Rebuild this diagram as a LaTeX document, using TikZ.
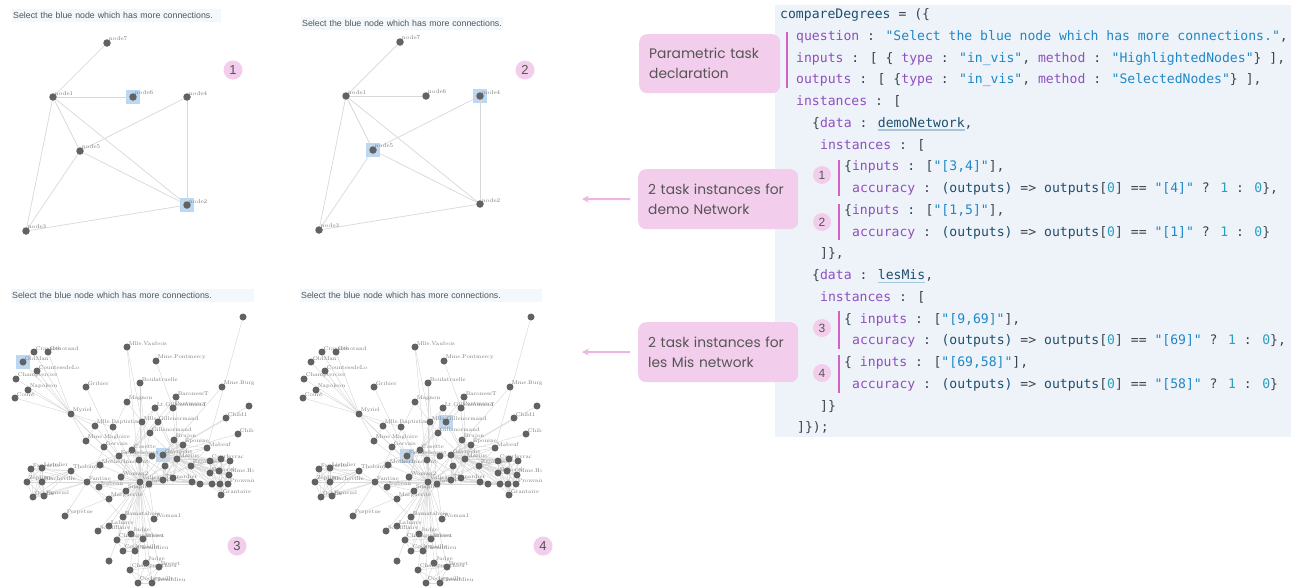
\documentclass[tikz,border=0pt]{standalone}
\usepackage{fontspec}
\usetikzlibrary{arrows.meta}
\newfontfamily\uifont{Liberation Sans}
\newfontfamily\callfont{Poppins}
\newfontfamily\codefont{DejaVu Sans Mono}

\definecolor{codebg}{HTML}{EEF3F9}
\definecolor{ckey}{HTML}{8E4FBF}
\definecolor{cstr}{HTML}{1E88C7}
\definecolor{cnum}{HTML}{2AA0C0}
\definecolor{cvar}{HTML}{1D4E6E}
\definecolor{cplain}{HTML}{3A444E}
\definecolor{pinkfill}{HTML}{F2CDEC}
\definecolor{pinkbar}{HTML}{D262C6}
\definecolor{pinkarrow}{HTML}{EBB6E1}
\definecolor{hlblue}{HTML}{BBD7F3}
\definecolor{headbg}{HTML}{F3F8FC}
\definecolor{nodegray}{HTML}{626262}
\definecolor{edgegray}{HTML}{D8D8D8}
\definecolor{lblgray}{HTML}{7A7A7A}
\definecolor{ulblue}{HTML}{A8C6DA}
\definecolor{txtgray}{HTML}{555555}

\pgfdeclarelayer{back}
\pgfsetlayers{back,main}

% code colouring
\newcommand\Ck[1]{\textcolor{ckey}{#1}}
\newcommand\Cs[1]{\textcolor{cstr}{#1}}
\newcommand\Cn[1]{\textcolor{cnum}{#1}}
\newcommand\Cv[1]{\textcolor{cvar}{#1}}
\newcommand\Cu[1]{\setbox0\hbox{\Cv{#1}}\rlap{\textcolor{ulblue}{\rule[-3.5pt]{\wd0}{1.3pt}}}\box0}
\newcommand\Acc[2]{\Ck{accuracy} : \Cv{(outputs)} => \Cv{outputs}[\Cn{0}] == \Cs{"[#1]"} ? \Cn{1} : \Cn{0}\}#2}

\tikzset{
  dnode/.style={circle, fill=nodegray, inner sep=0pt, minimum size=7.5pt},
  dlbl/.style={font=\fontsize{5.8}{6}\selectfont, text=lblgray, inner sep=0pt, label distance=-1.5pt},
  dedge/.style={draw=edgegray, line width=0.7pt},
  lmnode/.style={circle, fill=nodegray, inner sep=0pt, minimum size=7pt},
  lmlbl/.style={font=\fontsize{5.5}{6}\selectfont, text=lblgray, inner sep=0pt, label distance=-1.5pt},
  lmedge/.style={draw=edgegray, line width=0.45pt},
  hlsq/.style={fill=hlblue, minimum size=14pt, inner sep=0pt},
  head/.style={anchor=north west, fill=headbg, inner xsep=1pt, inner ysep=0pt,
    minimum height=13pt, align=left, font=\uifont\fontsize{8.8}{10}\selectfont, text=txtgray},
  badge/.style={circle, fill=pinkfill, inner sep=0pt, minimum size=19pt,
    font=\uifont\fontsize{13}{13}\selectfont, text=txtgray},
  cbadge/.style={badge, minimum size=18pt, font=\uifont\fontsize{12}{12}\selectfont},
  callout/.style={anchor=north west, fill=pinkfill, rounded corners=8pt, align=left,
    font=\callfont\fontsize{13.8}{20}\selectfont, text=txtgray, inner xsep=10pt, inner ysep=0pt},
  codeline/.style={anchor=west, inner sep=0pt, font=\codefont\fontsize{13.1}{15}\selectfont,
    text=cplain, text height=10pt, text depth=3pt},
  codebar/.style={draw=pinkbar, line width=2pt},
  pointer/.style={draw=pinkarrow, line width=2pt, -{Stealth[length=7pt,width=7pt]}, shorten <=8pt},
}

% small demo network: #1 prefix, #2 and #3 highlighted nodes
\newcommand\demonet[3]{%
  \foreach \n/\x/\y in {7/107/43, 1/53/97, 6/133/97, 4/187/97, 5/80/151, 2/187/205, 3/26/231}
    \node[dnode, label={[dlbl]north east:node\n}] (#1n\n) at (\x,\y) {};
  \begin{pgfonlayer}{back}
    \node[hlsq] (#1hA) at (#1n#2) {};
    \node[hlsq] (#1hB) at (#1n#3) {};
    \foreach \a/\b in {7/1, 1/6, 1/5, 1/2, 1/3, 4/5, 4/2, 5/2, 5/3, 3/2}
      \draw[dedge] (#1n\a) -- (#1n\b);
  \end{pgfonlayer}}

% Les Miserables co-occurrence network: #1 prefix, #2 and #3 highlighted nodes
\newcommand\lesmis[3]{%
  \foreach \n/\x/\y/\lb in {
    tr/243/317/{}, cra/34/352/Cravatte, geb/48/352/Geborand, old/23/362/OldMan,
    ctl/37/371/CountessdeLo, cht/16/379/Champtercier, nap/28/390/Napoleon, cnt/15/398/Count,
    myr/71/414/Myriel, gri/86/387/Gribier, mva/127/347/Mlle.Vaubois, mpo/156/361/Mme.Pontmercy,
    bou/140/383/Boulatruelle, mbu/222/387/Mme.Burgon, bar/176/397/BaronessT, mag/127/402/Magnon,
    ltg/155/408/Lt.Gillenormand, pon/173/408/Pontmercy, rr/249/406/{}, mba/95/426/Mlle.Baptistine,
    mmh/113/427/{}, mgl/86/441/Mme.Magloire, mgi/142/422/Mlle.Gillenormand, mgj/158/422/{},
    gil/150/433/Gillenormand, ch1/226/418/Child1, ch2/238/434/Child2, ger/104/447/Gervais,
    cos/132/450/Cosette, bru/174/440/Brujon, epo/183/445/Eponine, mab/207/448/Mabeuf,
    fav/31/469/Favourite, lis/42/468/Listolier, zep/27/482/Zephine, bla/42/482/Blacheville,
    dah/33/497/Dahlia, fam/44/496/Fameuil, tho/71/471/Tholomyes, fan/87/482/Fantine,
    isa/99/487/Isabeau, mar/109/499/Marguerite, per/65/516/Perpetue, sim/126/491/Simplice,
    wo2/121/477/Woman2, val/140/482/Valjean, jav/149/484/Javert, gav/163/455/Gavroche,
    mri/177/459/Marius, mr2/165/466/{}, x3/152/456/{}, x1/139/460/{},
    mot/100/465/MotherInnocent, fau/119/456/Fauchelevent, enj/191/466/Enjolras, cou/210/461/Courfeyrac,
    com/221/459/{}, pro/230/461/{}, bah/210/473/Bahorel, joly/219/471/{},
    mhu/229/475/Mme.Hucheloup, gue/192/482/{}, bab/200/484/{}, cla/212/484/{},
    mon/220/484/{}, feu/228/484/Prouvaire, gra/221/495/Grantaire, the/163/480/Thenardier,
    thn/173/478/{}, bam/123/517/Bamatabois, wo1/154/519/Woman1, lab/109/526/Labarre,
    sca/98/531/Scaufflaire, jud/131/534/Judge, bre/143/539/Brevet, chp/117/540/Champmathieu,
    coc/123/551/Cochepaille, che/135/551/Chenildieu, hf/109/561/{}, jd2/146/563/Judge,
    cp2/130/570/Champmathieu, br2/159/567/Brevet, co2/138/583/Cochepaille, ce2/152/583/Chenildieu}
    \node[lmnode, label={[lmlbl]north east:\lb}] (#1\n) at (\x,\y) {};
  \begin{pgfonlayer}{back}
    \node[hlsq] (#1hA) at (#1#2) {};
    \node[hlsq] (#1hB) at (#1#3) {};
    \foreach \a/\b in {
      myr/cra, myr/geb, myr/old, myr/ctl, myr/cht, myr/nap, myr/cnt, myr/mba, myr/mgl, myr/mmh, myr/val, myr/ger,
      gri/fau, mva/mgi, mva/val, mpo/pon, bou/val, bou/jav, mbu/gav, tr/mab, bar/mri, bar/cos, mag/mgi, mag/fan,
      ltg/mgi, ltg/cos, ltg/mri, pon/gil, pon/mri, rr/gav, ch1/gav, ch2/gav,
      mba/mgl, mba/val, mgl/val, mmh/val, mgi/val, mgi/cos, mgi/gil, mgj/gil, mgj/mri, mgj/cos, gil/mri, gil/cos, gil/val,
      ger/val, cos/val, cos/mri, cos/jav, cos/the, cos/thn, cos/fau,
      bru/gav, bru/the, bru/thn, bru/epo, bru/gue, bru/bab, bru/cla, bru/mon,
      epo/mri, epo/the, epo/thn, epo/gav, mab/enj, mab/gav, mab/epo, mab/mri,
      fav/lis, fav/zep, fav/bla, fav/dah, fav/fam, lis/zep, lis/bla, lis/dah, lis/fam, zep/bla, zep/dah, zep/fam,
      bla/dah, bla/fam, dah/fam, fav/tho, lis/tho, zep/tho, bla/tho, dah/tho, fam/tho,
      fav/fan, lis/fan, zep/fan, bla/fan, dah/fan, fam/fan,
      tho/fan, tho/cos, fan/val, fan/mar, fan/the, fan/thn, fan/jav, fan/sim, fan/bam, fan/per, per/sim,
      isa/val, mar/val, sim/val, sim/jav, wo2/val, wo2/cos, wo2/jav,
      val/jav, val/gav, val/mri, val/the, val/thn, val/bam, val/wo1, val/lab, val/sca, val/jud, val/bre, val/chp,
      val/coc, val/che, val/jd2, val/cp2, val/br2, val/co2, val/ce2, val/x1, val/x3, val/mr2, val/enj, val/hf,
      jav/the, jav/thn, jav/enj, jav/gav, jav/bam, jav/wo1, jav/gue, jav/bab, jav/cla, jav/mon,
      jud/bre, jud/chp, jud/coc, jud/che, bre/chp, bre/coc, bre/che, chp/coc, chp/che, coc/che, bam/jud, bam/chp,
      jd2/cp2, jd2/br2, jd2/co2, jd2/ce2, cp2/br2, cp2/co2, cp2/ce2, br2/co2, br2/ce2, co2/ce2,
      mot/val, mot/fau, fau/val, fau/cos, fau/jav, fau/gav,
      gav/mri, gav/enj, gav/cou, gav/com, gav/bah, gav/joly, gav/mhu, gav/pro, gav/the, gav/thn,
      gav/gue, gav/bab, gav/cla, gav/mon,
      mri/enj, mri/cou, mri/com, mri/bah, mri/joly, mri/the, mri/thn, mri/x3,
      enj/cou, enj/com, enj/bah, enj/joly, enj/pro, enj/feu, enj/gra, enj/mhu,
      cou/com, cou/bah, cou/joly, cou/pro, cou/feu, cou/gra, cou/mhu, com/bah, com/joly, com/pro, com/feu, com/gra,
      bah/joly, bah/pro, bah/feu, bah/gra, bah/mhu, joly/pro, joly/feu, joly/gra, joly/mhu, pro/feu, pro/gra, feu/gra,
      the/thn, the/gue, the/bab, the/cla, the/mon, thn/gue, thn/bab, thn/cla, thn/mon,
      gue/bab, gue/cla, gue/mon, bab/cla, bab/mon, cla/mon, x1/cos, x3/cos, mr2/the}
      \draw[lmedge] (#1\a) -- (#1\b);
  \end{pgfonlayer}}

\begin{document}
\begin{tikzpicture}[x=1pt, y=-1pt]
\useasboundingbox (0,0) rectangle (1293,587);
\begin{pgfonlayer}{back}
  \fill[white] (0,0) rectangle (1293,587);
\end{pgfonlayer}

% ---------- task views ----------
\node[head, text width=207pt] (h1) at (12,9) {\mbox{Select the blue node which has more connections.}};
\demonet{a}{6}{2}
\node[badge] (b1) at (233,70) {1};

\node[head, text width=200pt] (h2) at (301,17) {\mbox{Select the blue node which has more connections.}};
\begin{scope}[shift={(293,-1)}]
  \demonet{b}{4}{5}
\end{scope}
\node[badge] (b2) at (525,70) {2};

\node[head, text width=241pt] (h3) at (11,289) {\mbox{Select the blue node which has more connections.}};
\begin{scope}
  \clip (0,305) rectangle (253,587);
  \lesmis{c}{old}{gav}
\end{scope}
\node[badge] (b3) at (237,546) {3};

\node[head, text width=240pt] (h4) at (300,289) {\mbox{Select the blue node which has more connections.}};
\begin{scope}[shift={(288,0)}]
  \clip (0,305) rectangle (253,587);
  \lesmis{d}{mgj}{fau}
\end{scope}
\node[badge] (b4) at (543,546) {4};

% ---------- code listing ----------
\fill[codebg] (775,5) rectangle (1291,437);

\node[codeline] (c0)  at (780,15)     {\Cv{compareDegrees} = (\{};
\node[codeline] (c1)  at (796,36.75)  {\Ck{question} : \Cs{"Select the blue node which has more connections."},};
\node[codeline] (c2)  at (796,58.5)   {\Ck{inputs} : [ \{ \Ck{type} : \Cs{"in\_vis"}, \Ck{method} : \Cs{"HighlightedNodes"}\} ],};
\node[codeline] (c3)  at (796,80.25)  {\Ck{outputs} : [ \{\Ck{type} : \Cs{"in\_vis"}, \Ck{method} : \Cs{"SelectedNodes"}\} ],};
\node[codeline] (c4)  at (796,102)    {\Ck{instances} : [};
\node[codeline] (c5)  at (812,123.75) {\{\Ck{data} : \Cu{demoNetwork},};
\node[codeline] (c6)  at (820,145.5)  {\Ck{instances} : [};
\node[codeline] (c7)  at (844,167.25) {\{\Ck{inputs} : [\Cs{"[3,4]"}],};
\node[codeline] (c8)  at (852,189)    {\Acc{4}{,}};
\node[codeline] (c9)  at (844,210.75) {\{\Ck{inputs} : [\Cs{"[1,5]"}],};
\node[codeline] (c10) at (852,232.5)  {\Acc{1}{}};
\node[codeline] (c11) at (820,254.25) {]\},};
\node[codeline] (c12) at (812,276)    {\{\Ck{data} : \Cu{lesMis},};
\node[codeline] (c13) at (820,297.75) {\Ck{instances} : [};
\node[codeline] (c14) at (844,319.5)  {\{ \Ck{inputs} : [\Cs{"[9,69]"}],};
\node[codeline] (c15) at (852,341.25) {\Acc{69}{,}};
\node[codeline] (c16) at (844,363)    {\{ \Ck{inputs} : [\Cs{"[69,58]"}],};
\node[codeline] (c17) at (852,384.75) {\Acc{58}{}};
\node[codeline] (c18) at (820,406.5)  {]\}};
\node[codeline] (c19) at (797,428.25) {]\});};

% bars marking the annotated parts of the listing
\draw[codebar] (787,32) -- (787,88);
\draw[codebar] (839,160) -- (839,196);
\draw[codebar] (839,204) -- (839,240);
\draw[codebar] (839,311) -- (839,349);
\draw[codebar] (839,355) -- (839,393);

\node[cbadge] (k1) at (822,175) {1};
\node[cbadge] (k2) at (822,222) {2};
\node[cbadge] (k3) at (822,328) {3};
\node[cbadge] (k4) at (822,373) {4};

% ---------- callouts ----------
\node[callout, text width=121pt, minimum height=59pt] (cb1) at (639,34) {Parametric task\\declaration};
\node[callout, text width=140pt, minimum height=60pt] (cb2) at (638,169) {2 task instances for\\demo Network};
\node[callout, text width=140pt, minimum height=60pt] (cb3) at (638,322) {2 task instances for\\les Mis network};

\coordinate (ae2) at (582,199);
\coordinate (ae3) at (582,352);
\draw[pointer] (cb2.west) -- (ae2);
\draw[pointer] (cb3.west) -- (ae3);
\end{tikzpicture}
\end{document}
